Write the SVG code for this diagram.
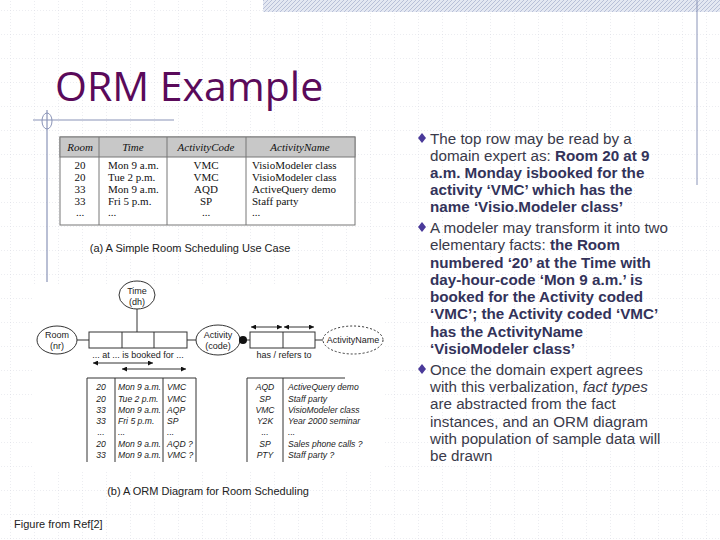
<svg xmlns="http://www.w3.org/2000/svg" width="720" height="540" viewBox="0 0 720 540">
<defs>
<pattern id="grid" width="24" height="24" patternUnits="userSpaceOnUse" x="10" y="10">
<path d="M0 0H24M0 0V24" fill="none" stroke="#cfd3dc" stroke-width="0.8" stroke-dasharray="1,2"/>
</pattern>
<pattern id="hatch" width="4" height="4" patternUnits="userSpaceOnUse">
<rect width="4" height="4" fill="#e4e8f2"/><path d="M0 4L4 0" stroke="#b8c0d8" stroke-width="1"/>
</pattern>
<marker id="ah" viewBox="0 0 10 10" refX="10" refY="5" markerWidth="7" markerHeight="5" orient="auto-start-reverse"><path d="M0 0L10 5L0 10z" fill="#111"/></marker>
</defs>
<style>
.ln{stroke:#333;stroke-width:1;fill:none}
.bx{stroke:#333;stroke-width:1;fill:#fff}
.t{font-family:"Liberation Sans",Arial,sans-serif;font-size:9px;fill:#222}
.ti{font-family:"Liberation Sans",Arial,sans-serif;font-size:8.6px;fill:#222;font-style:italic}
.sr{font-family:"Liberation Serif","Times New Roman",serif;font-size:11px;fill:#111}
.sri{font-family:"Liberation Serif","Times New Roman",serif;font-size:11px;fill:#111;font-style:italic}
.cap{font-family:"Liberation Sans",Arial,sans-serif;font-size:11px;fill:#222}
.bt{font-family:"Liberation Sans",Arial,sans-serif;font-size:15.2px;fill:#3a3a4a}
.b{font-weight:bold;fill:#33335a}
</style>
<rect width="720" height="540" fill="#fff"/>
<rect width="720" height="540" fill="url(#grid)"/>
<rect x="263" y="0" width="457" height="12" fill="url(#hatch)"/>
<line x1="697" y1="0" x2="697" y2="185" stroke="#8a94b8" stroke-width="1"/>
<text x="55" y="101" font-family="'Open Sans','Liberation Sans',sans-serif" font-size="41" fill="#5a0a5a">ORM Example</text>
<line x1="33" y1="120" x2="174" y2="120" stroke="#8a94b8" stroke-width="1.2"/>
<line x1="47" y1="110" x2="47" y2="282" stroke="#8a94b8" stroke-width="1.2"/>
<ellipse cx="47" cy="121" rx="5" ry="8" fill="none" stroke="#8a94b8"/>

<g id="tableA">
<rect x="60" y="137" width="295" height="88" fill="#fff" stroke="#777"/>
<rect x="60" y="137" width="295" height="20" fill="#c8c8c8" stroke="#777"/>
<path d="M99 137V225M167 137V225M246 137V225" stroke="#777"/>
<g class="sri" text-anchor="middle"><text x="80" y="151">Room</text><text x="133" y="151">Time</text><text x="206" y="151">ActivityCode</text><text x="300" y="151">ActivityName</text></g>
<g class="sr">
<text x="80" y="169" text-anchor="middle">20</text><text x="80" y="181" text-anchor="middle">20</text><text x="80" y="193" text-anchor="middle">33</text><text x="80" y="205" text-anchor="middle">33</text><text x="80" y="216" text-anchor="middle">...</text>
<text x="108" y="169">Mon 9 a.m.</text><text x="108" y="181">Tue 2 p.m.</text><text x="108" y="193">Mon 9 a.m.</text><text x="108" y="205">Fri 5 p.m.</text><text x="108" y="216">...</text>
<text x="206" y="169" text-anchor="middle">VMC</text><text x="206" y="181" text-anchor="middle">VMC</text><text x="206" y="193" text-anchor="middle">AQD</text><text x="206" y="205" text-anchor="middle">SP</text><text x="206" y="216" text-anchor="middle">...</text>
<text x="252" y="169">VisioModeler class</text><text x="252" y="181">VisioModeler class</text><text x="252" y="193">ActiveQuery demo</text><text x="252" y="205">Staff party</text><text x="252" y="216">...</text>
</g>
<text class="cap" x="190" y="252" text-anchor="middle">(a) A Simple Room Scheduling Use Case</text>
</g>

<rect x="34" y="284" width="350" height="188" fill="#fff"/>
<g id="connectors">
<line class="ln" x1="137" y1="309" x2="137" y2="332"/>
<line class="ln" x1="77" y1="340" x2="89" y2="340"/>
<line class="ln" x1="187" y1="340" x2="196" y2="340"/>
<line class="ln" x1="240" y1="340" x2="250" y2="340"/>
<line class="ln" x1="315" y1="340" x2="323" y2="340"/>
<line class="ln" x1="251" y1="327" x2="282" y2="327" marker-start="url(#ah)" marker-end="url(#ah)"/>
<line class="ln" x1="284" y1="327" x2="314" y2="327" marker-start="url(#ah)" marker-end="url(#ah)"/>
<line class="ln" x1="93" y1="363" x2="153" y2="363" marker-start="url(#ah)" marker-end="url(#ah)"/>
<line class="ln" x1="122" y1="369" x2="186" y2="369" marker-start="url(#ah)" marker-end="url(#ah)"/>
</g>
<g id="time"><ellipse class="bx" cx="137" cy="295" rx="18" ry="14"/><text class="t" x="137" y="294" text-anchor="middle">Time</text><text class="t" x="137" y="305" text-anchor="middle">(dh)</text></g>
<g id="room"><ellipse class="bx" cx="57" cy="340" rx="20" ry="14"/><text class="t" x="57" y="338" text-anchor="middle">Room</text><text class="t" x="57" y="349" text-anchor="middle">(nr)</text></g>
<g id="booking"><rect class="bx" x="89" y="332" width="98" height="16"/><path class="ln" d="M122 332V348M154 332V348"/><text class="t" x="138" y="358" text-anchor="middle">... at ... is booked for ...</text></g>
<g id="activity"><ellipse class="bx" cx="218" cy="340" rx="22" ry="15"/><text class="t" x="218" y="338" text-anchor="middle">Activity</text><text class="t" x="218" y="349" text-anchor="middle">(code)</text><circle cx="243" cy="340" r="4" fill="#111"/></g>
<g id="hasname"><rect class="bx" x="250" y="332" width="65" height="16"/><path class="ln" d="M283 332V348"/><text class="t" x="284" y="358" text-anchor="middle">has / refers to</text></g>
<g id="activityname"><ellipse cx="353" cy="340" rx="30" ry="14" fill="#fff" stroke="#333" stroke-dasharray="2,2"/><text class="t" x="353" y="343" text-anchor="middle">ActivityName</text></g>
<g id="popA">
<path class="ln" d="M87 378H196M87 378V462M115 378V462M163 378V462M196 378V462"/>
<g class="ti">
<text x="101" y="390" text-anchor="middle">20</text><text x="101" y="402" text-anchor="middle">20</text><text x="101" y="413" text-anchor="middle">33</text><text x="101" y="424" text-anchor="middle">33</text><text x="101" y="435" text-anchor="middle">...</text><text x="101" y="447" text-anchor="middle">20</text><text x="101" y="458" text-anchor="middle">33</text>
<text x="118" y="390">Mon 9 a.m.</text><text x="118" y="402">Tue 2 p.m.</text><text x="118" y="413">Mon 9 a.m.</text><text x="118" y="424">Fri 5 p.m.</text><text x="118" y="435">...</text><text x="118" y="447">Mon 9 a.m.</text><text x="118" y="458">Mon 9 a.m.</text>
<text x="167" y="390">VMC</text><text x="167" y="402">VMC</text><text x="167" y="413">AQP</text><text x="167" y="424">SP</text><text x="167" y="435">...</text><text x="167" y="447">AQD ?</text><text x="167" y="458">VMC ?</text>
</g></g>
<g id="popB">
<path class="ln" d="M247 378H345M247 378V462M283 378V462"/>
<g class="ti">
<text x="265" y="390" text-anchor="middle">AQD</text><text x="265" y="402" text-anchor="middle">SP</text><text x="265" y="413" text-anchor="middle">VMC</text><text x="265" y="424" text-anchor="middle">Y2K</text><text x="265" y="435" text-anchor="middle">...</text><text x="265" y="447" text-anchor="middle">SP</text><text x="265" y="458" text-anchor="middle">PTY</text>
<text x="288" y="390">ActiveQuery demo</text><text x="288" y="402">Staff party</text><text x="288" y="413">VisioModeler class</text><text x="288" y="424">Year 2000 seminar</text><text x="288" y="435">...</text><text x="288" y="447">Sales phone calls ?</text><text x="288" y="458">Staff party ?</text>
</g></g>
<text class="cap" x="208" y="495" text-anchor="middle">(b) A ORM Diagram for Room Scheduling</text>
<text class="cap" x="14" y="528">Figure from Ref[2]</text>

<g id="bullets">
<g fill="#4a3a9a"><path d="M422 133l-4 5 4 5 4-5z"/><path d="M422 222l-4 5 4 5 4-5z"/><path d="M422 364l-4 5 4 5 4-5z"/></g>
<g class="bt">
<text x="430" y="144">The top row may be read by a</text>
<text x="430" y="161">domain expert as: <tspan class="b">Room 20 at 9</tspan></text>
<text x="430" y="178" class="b">a.m. Monday isbooked for the</text>
<text x="430" y="195" class="b">activity ‘VMC’ which has the</text>
<text x="430" y="212" class="b">name ‘Visio.Modeler class’</text>
<text x="430" y="233">A modeler may transform it into two</text>
<text x="430" y="250">elementary facts: <tspan class="b">the Room</tspan></text>
<text x="430" y="268" class="b">numbered ‘20’ at the Time with</text>
<text x="430" y="285" class="b">day-hour-code ‘Mon 9 a.m.’ is</text>
<text x="430" y="302" class="b">booked for the Activity coded</text>
<text x="430" y="319" class="b">‘VMC’; the Activity coded ‘VMC’</text>
<text x="430" y="337" class="b">has the ActivityName</text>
<text x="430" y="354" class="b">‘VisioModeler class’</text>
<text x="430" y="375">Once the domain expert agrees</text>
<text x="430" y="392">with this verbalization, <tspan font-style="italic">fact types</tspan></text>
<text x="430" y="409">are abstracted from the fact</text>
<text x="430" y="427">instances, and an ORM diagram</text>
<text x="430" y="444">with population of sample data will</text>
<text x="430" y="461">be drawn</text>
</g></g>
</svg>
